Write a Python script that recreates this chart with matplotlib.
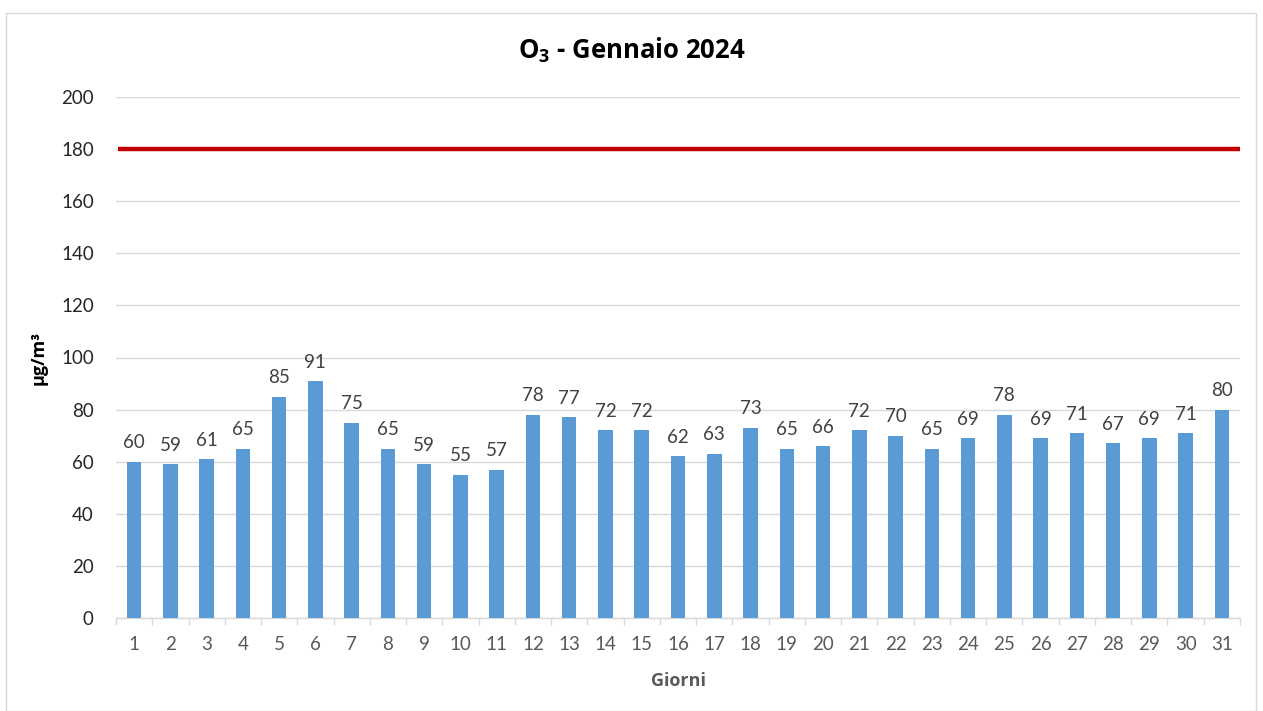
import matplotlib
matplotlib.use("Agg")
import matplotlib.pyplot as plt
from matplotlib.patches import Rectangle

days = [str(i) for i in range(1, 32)]
values = [60, 59, 61, 65, 85, 91, 75, 65, 59, 55, 57, 78, 77, 72, 72, 62, 63, 73,
          65, 66, 72, 70, 65, 69, 78, 69, 71, 67, 69, 71, 80]
threshold = 180
yticks = [0, 20, 40, 60, 80, 100, 120, 140, 160, 180, 200]

plt.rcParams['font.family'] = ['Lato', 'DejaVu Sans']
plt.rcParams['mathtext.fontset'] = 'custom'
plt.rcParams['mathtext.bf'] = 'Open Sans:bold'
plt.rcParams['mathtext.rm'] = 'Open Sans'
BOLD = ['Open Sans', 'DejaVu Sans']

W, H = 1263, 711
fig = plt.figure(figsize=(W / 100, H / 100), dpi=100)
ax = fig.add_axes([116 / W, 1 - 618 / H, (1240 - 116) / W, (618 - 97) / H])

x = list(range(len(days)))
ax.bar(x, values, width=0.4, color='#5B9BD5', zorder=3)
for xi, v in zip(x, values):
    ax.text(xi, v + 4, str(v), ha='center', va='bottom', fontsize=13.5, color='#404040')

ax.plot([-0.45, len(days) - 0.5], [threshold, threshold], color='#C00000', lw=3.2, zorder=4,
        solid_capstyle='butt')

ax.set_xlim(-0.5, len(days) - 0.5)
ax.set_ylim(0, 200)
ax.set_yticks(yticks)
ax.set_xticks(x)
ax.set_xticklabels(days)
ax.set_xticks([i - 0.5 for i in range(len(days) + 1)], minor=True)
ax.tick_params(axis='x', which='major', length=0, pad=13, labelsize=13.5, labelcolor='#595959')
ax.tick_params(axis='x', which='minor', length=5, color='#D9D9D9', width=1)
ax.tick_params(axis='y', length=0, pad=16, labelsize=13.5, labelcolor='#262626')
ax.grid(axis='y', color='#D9D9D9', lw=1, zorder=0)
for s in ['top', 'right', 'left']:
    ax.spines[s].set_visible(False)
ax.spines['bottom'].set_color('#D9D9D9')
ax.spines['bottom'].set_linewidth(1)

ax.set_xlabel('Giorni', fontsize=13, fontweight='bold', color='#595959', labelpad=14,
              family=BOLD)
ax.set_ylabel('µg/m³', fontsize=13, fontweight='bold', color='#000000', labelpad=10,
              family=BOLD)

fig.text(0.5, 1 - 50 / H, 'O$_\\mathbf{3}$ - Gennaio 2024', ha='center', va='center',
         fontsize=18.5, fontweight='bold', color='#000000', family=BOLD)

fig.patches.append(Rectangle((6 / W, 0), (1256 - 6) / W, 1 - 13 / H, transform=fig.transFigure,
                             fill=False, edgecolor='#D9D9D9', lw=1))

fig.savefig('out.png', dpi=100)
